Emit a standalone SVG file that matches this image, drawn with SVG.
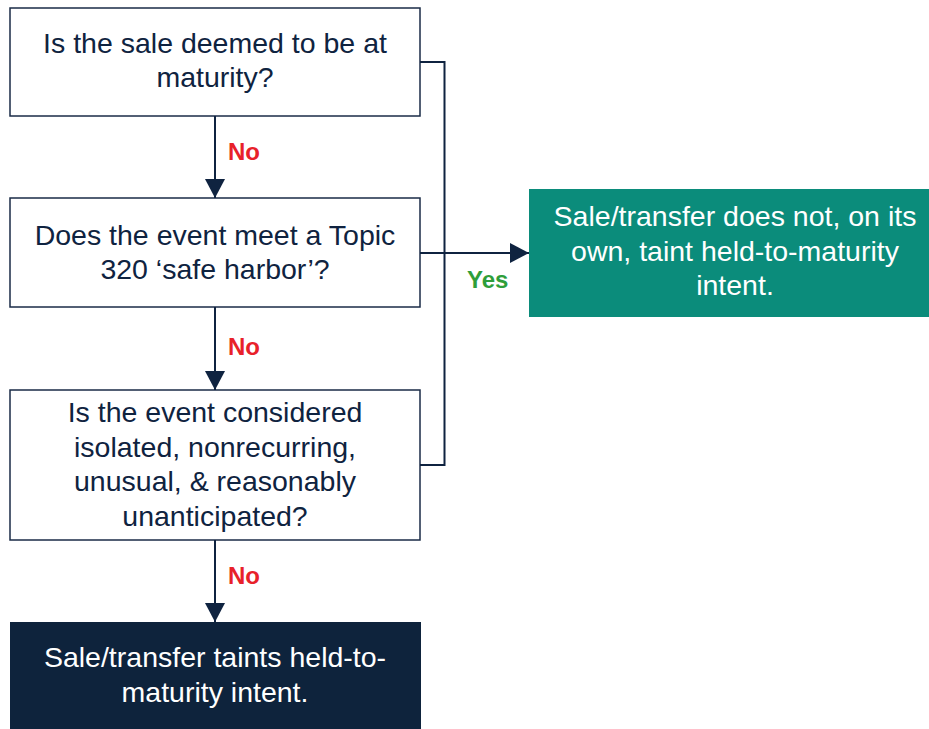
<svg xmlns="http://www.w3.org/2000/svg" width="929" height="729" viewBox="0 0 929 729">
<style>
.box{fill:#ffffff;stroke:#1a2b47;stroke-width:1.5}
.q{font-family:"Liberation Sans",Arial,sans-serif;font-size:28.5px;fill:#0f2340;text-anchor:middle}
.w{font-family:"Liberation Sans",Arial,sans-serif;font-size:28.5px;fill:#ffffff;text-anchor:middle}
.no{font-family:"Liberation Sans",Arial,sans-serif;font-size:24px;font-weight:bold;fill:#e8212a}
.yes{font-family:"Liberation Sans",Arial,sans-serif;font-size:24px;font-weight:bold;fill:#2e9e3a}
.conn{fill:none;stroke:#0f2340;stroke-width:2}
</style>
<defs>
<marker id="arr" markerUnits="userSpaceOnUse" markerWidth="20" markerHeight="20" refX="19" refY="10" orient="auto">
<path d="M0,0 L19,10 L0,20 Z" fill="#0f2340"/>
</marker>
</defs>
<rect width="929" height="729" fill="#ffffff"/>
<g id="q1">
<rect class="box" x="10" y="8" width="410" height="108"/>
<text class="q" x="215" y="53">Is the sale deemed to be at</text>
<text class="q" x="215" y="87">maturity?</text>
</g>
<g id="q2">
<rect class="box" x="10" y="198" width="410" height="109"/>
<text class="q" x="215" y="245">Does the event meet a Topic</text>
<text class="q" x="215" y="279">320 ‘safe harbor’?</text>
</g>
<g id="q3">
<rect class="box" x="10" y="390" width="410" height="150"/>
<text class="q" x="215" y="422">Is the event considered</text>
<text class="q" x="215" y="457">isolated, nonrecurring,</text>
<text class="q" x="215" y="491">unusual, &amp; reasonably</text>
<text class="q" x="215" y="526">unanticipated?</text>
</g>
<g id="taints">
<rect x="10" y="622" width="411" height="110" fill="#0e233c"/>
<text class="w" x="215" y="667">Sale/transfer taints held-to-</text>
<text class="w" x="215" y="702">maturity intent.</text>
</g>
<g id="notaint">
<rect x="529" y="189" width="412" height="128" fill="#0b8c7b"/>
<text class="w" x="735" y="226">Sale/transfer does not, on its</text>
<text class="w" x="735" y="261">own, taint held-to-maturity</text>
<text class="w" x="735" y="295">intent.</text>
</g>
<g id="connectors">
<line class="conn" x1="215" y1="116" x2="215" y2="198" marker-end="url(#arr)"/>
<line class="conn" x1="215" y1="307" x2="215" y2="390" marker-end="url(#arr)"/>
<line class="conn" x1="215" y1="540" x2="215" y2="622" marker-end="url(#arr)"/>
<polyline class="conn" points="420,62 444.5,62 444.5,465 420,465"/>
<line class="conn" x1="420" y1="253" x2="529" y2="253" marker-end="url(#arr)"/>
<text class="no" x="228" y="160">No</text>
<text class="no" x="228" y="355">No</text>
<text class="no" x="228" y="584">No</text>
<text class="yes" x="467" y="288">Yes</text>
</g>
</svg>
